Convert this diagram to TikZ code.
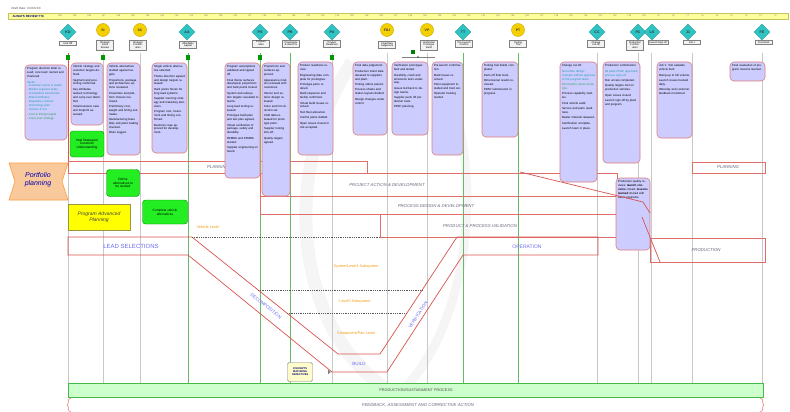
\documentclass[tikz,border=0pt]{standalone}
\usepackage{fontspec}
\setmainfont{Liberation Sans}
\usetikzlibrary{arrows.meta,shapes.geometric,shadows}
\definecolor{lav}{HTML}{CCCCFF}
\definecolor{lavborder}{HTML}{E07A7A}
\definecolor{teal1}{HTML}{2EC4C4}
\definecolor{gold1}{HTML}{F5D000}
\definecolor{bandred}{HTML}{D9534F}
\definecolor{bright}{HTML}{22EE22}
\definecolor{peach}{HTML}{F9C89B}
\definecolor{ylw}{HTML}{FFFF00}
\definecolor{lgreen}{HTML}{CCFFCC}
\definecolor{tlbar}{HTML}{FFFF99}
\definecolor{vgreen}{HTML}{66BB66}
\definecolor{vgray}{HTML}{C8C8C8}
\definecolor{orangetxt}{HTML}{F39C12}
\definecolor{bluetxt}{HTML}{6C6CF0}
\definecolor{tealtxt}{HTML}{1F9AA8}
\definecolor{greentxt}{HTML}{2E9E4F}
\definecolor{bandtxt}{HTML}{6A6A80}
\newcommand\mynote[6]{%
  \draw[notebg] (#2,#3) rectangle (#4,#5);
  \pgfmathsetmacro\nbw{#4-#2-3.5}
  \node[notetxt, text width=\nbw pt, anchor=north west] (#1) at (#2+1.8,#3+2.5) {#6};
}
\begin{document}
\begin{tikzpicture}[x=1pt,y=-1pt,
  diam/.style={diamond, fill=teal1, draw=teal1!80!black, inner sep=0pt, minimum width=16, minimum height=16, font=\fontsize{3.6}{4}\selectfont\bfseries, text=black!80},
  circ/.style={circle, fill=gold1, draw=gold1!80!black, minimum size=13, inner sep=0pt, font=\fontsize{3.4}{4}\selectfont\bfseries, text=black!80},
  lbl/.style={draw=gray, fill=gray!10, font=\fontsize{2.5}{2.9}\selectfont, align=center, inner sep=1pt, minimum width=17, anchor=north, drop shadow={shadow xshift=0.7pt, shadow yshift=-0.7pt, fill=gray!60}},
  notebg/.style={fill=lav, draw=lavborder, rounded corners=4pt, line width=0.6pt},
  notetxt/.style={font=\fontsize{2.9}{3.9}\selectfont, align=left, inner sep=0pt},
  gbox/.style={fill=bright, draw=green!55!black, rounded corners=3pt, font=\fontsize{3.2}{3.8}\selectfont, align=center, inner sep=1pt},
  band/.style={draw=bandred!85, line width=0.7pt},
  bandlbl/.style={font=\fontsize{4.3}{5}\selectfont\itshape, text=bandtxt},
  vline/.style={draw=bandred, line width=0.7pt},
  dashln/.style={draw=black!65, line width=0.6pt, dash pattern=on 1pt off 0.8pt},
  lvl/.style={font=\fontsize{3.8}{4.5}\selectfont, text=orangetxt},
  armlbl/.style={font=\fontsize{4.5}{5}\selectfont, text=bluetxt, inner sep=0.5pt}]
\useasboundingbox (0,0) rectangle (790,412);
\fill[white] (0,0) rectangle (790,412);
% faint watermark
\draw[line width=13pt, black!4] (352,62) .. controls (275,180) and (300,330) .. (385,388);
\draw[line width=9pt, black!4] (445,75) .. controls (490,200) and (460,330) .. (405,388);
% header
\node[anchor=west, font=\fontsize{3}{3.5}\selectfont, text=black!70] (draft) at (8,8) {Draft Date: XX/XX/XX};
\draw[fill=tlbar, draw=yellow!50!gray] (8,13) rectangle (788,19);
\node[anchor=west, font=\fontsize{3}{3.5}\selectfont\bfseries, text=blue!50!black] (ttc) at (9,16) {ALWAYS REVIEW TTC};
\foreach \i in {0,...,49} {
  \pgfmathtruncatemacro\nn{50-\i}
  \node[font=\fontsize{2.4}{2.6}\selectfont, text=black!55, inner sep=0pt] (tk\i) at (60+\i*14.6,16) {|\,\nn};
}
% vertical milestone lines
\foreach \x/\c in {68/vgray,103/vgray,140/vgray,188/vgreen,260/vgreen,290/vgreen,332/vgray,387/vgray,427/vgray,463/vgreen,518/vgreen,597/vgray,638/vgray,651/vgray,692/vgray,762/vgray}
  \draw[\c, line width=0.6pt] (\x,53) -- (\x,383);
\draw[bandred, line width=0.6pt] (68,53) -- (68,161);
% milestones
\node[diam] (m1) at (68,32) {KO};
\node[circ] (m2) at (103,30) {SI};
\node[circ] (m3) at (140,30) {SC};
\node[diam] (m4) at (187,32) {AA};
\node[diam] (m5) at (260,32) {PS};
\node[diam] (m6) at (290,32) {PR};
\node[diam] (m7) at (332,32) {PA};
\node[circ] (m8) at (387,30) {FDJ};
\node[circ] (m9) at (427,30) {VP};
\node[diam] (m10) at (463,32) {TT};
\node[circ] (m11) at (518,30) {PT};
\node[diam] (m12) at (597,32) {CC};
\node[diam] (m13) at (638,32) {PC};
\node[diam] (m14) at (652,32) {LS};
\node[diam] (m15) at (688,32) {J1};
\node[diam] (m16) at (762,32) {FE};
% milestone labels
\node[lbl] (l1) at (68,41) {Kick Off};
\node[lbl] (l2) at (105,40) {Strategic\\Intent\\Review};
\node[lbl] (l3) at (138,40) {Strategic\\Confirm-\\ation};
\node[lbl] (l4) at (188,41) {Affordable\\Appeal};
\node[lbl] (l5) at (261,40) {Program\\Start};
\node[lbl] (l6) at (291,40) {Proportions\\\& Hard Pts};
\node[lbl] (l7) at (332,40) {Product\\Readiness};
\node[lbl] (l8) at (387,41) {Final Data\\Judgement};
\node[lbl] (l9) at (429,40) {Verification\\Prototype\\Build};
\node[lbl] (l10) at (464,40) {Pre-Launch\\Confirm};
\node[lbl] (l11) at (518,40) {Tooling\\Trial};
\node[lbl] (l12) at (596,40) {Change\\Cut-off};
\node[lbl] (l13) at (635,40) {Production\\Confirm-\\ation};
\node[lbl] (l14) at (658,40) {Launch Sign-off};
\node[lbl] (l15) at (692,40) {Job 1};
\node[lbl] (l16) at (764,40) {Final Eval.};
% small markers
\foreach \x in {68,103,188,260,332}
  \fill[green!60!black] (\x-1.8,55) rectangle (\x+1.8,60);
\draw[gray, line width=0.5pt] (402,57) -- (435,57);
\fill[green!50!black] (411,50) rectangle (415,54);
\fill[black!70] (418,57) circle (0.9);
% bands
\draw[band] (68,161) rectangle (367,173);
\node[bandlbl] (bplan) at (218,167) {PLANNING};
\draw[band] (260,173) rectangle (617,196);
\node[bandlbl] (bproj) at (387,185) {PROJECT ACTION \& DEVELOPMENT};
\draw[band] (260,196) rectangle (617,214);
\node[bandlbl] (bproc) at (436,206) {PROCESS DESIGN \& DEVELOPMENT};
\draw[band] (380,214) rectangle (617,237);
\node[bandlbl] (bval) at (480,226) {PRODUCT \& PROCESS VALIDATION};
\draw[band] (692,162) rectangle (765,173);
\node[bandlbl] (bplan2) at (728,167.5) {PLANNING};
\draw[band] (650,238) rectangle (765,262);
\node[bandlbl] (bprod) at (706,250) {PRODUCTION};
% V model
\draw[vline] (68,237) -- (192,237) -- (338,354) -- (380,354) -- (457,237) -- (598,237) -- (598,255) -- (463,255) -- (387,372) -- (332,372) -- (188,255) -- (68,255) -- cycle;
\draw[dashln] (192,237) -- (380,237);
\draw[dashln] (258,290) -- (422,290);
\draw[dashln] (287,313) -- (407,313);
\node[font=\fontsize{6}{7}\selectfont, text=bluetxt] (lead) at (131,246) {LEAD SELECTIONS};
\node[font=\fontsize{5}{6}\selectfont, text=bluetxt] (oper) at (527,247) {OPERATION};
\node[armlbl, rotate=-39] (larm) at (266,306) {DECOMPOSITION};
\node[armlbl, rotate=57] (rarm) at (418,315) {VERIFICATION};
\node[armlbl] (vbot) at (359,364) {BUILD};
\node[lvl, anchor=west] (lv0) at (193,227) {Vehicle Level};
\node[lvl] (lv1) at (356,267) {System/Level1 Subsystem};
\node[lvl] (lv2) at (355,302) {Level2 Subsystem};
\node[lvl] (lv3) at (356,334) {Component/Part Level};
% concept box
\node[draw=gray, fill=yellow!20, rounded corners=1.5pt, font=\fontsize{2.6}{3.1}\selectfont\bfseries, text=blue!40!black, align=center, minimum width=25, minimum height=19, inner sep=0.5pt] (conc) at (300,372) {CONCEPTS\\MATURING\\OBJECTIVES};
\draw[gray, double, double distance=2pt, -{Latex[length=3pt,width=5pt]}] (conc.east) -- (331,372);
% notes
\mynote{n1}{25}{65}{67}{140}{Program direction letter issued; core team named and chartered.\\[1.5pt]
{\color{tealtxt}Inputs:\\- Customer wants \& needs\\- Market segment study\\- Competitive benchmark\\- Brand attributes\\- Regulatory outlook\\- Technology plan\\- Volume \& mix}\\[1.5pt]
{\color{greentxt}- Cost \& timing targets\\- Carry-over strategy}}
\mynote{n2}{71}{63}{103}{125}{Vehicle strategy and customer targets defined.\\[1.5pt] Segment and positioning confirmed.\\[1.5pt] Key attributes ranked; technology and carry-over identified.\\[1.5pt] Initial business case and footprint assessed.}
\mynote{n3}{107}{63}{140}{155}{Vehicle alternatives studied against targets.\\[1.5pt] Proportions, package and architecture options reviewed.\\[1.5pt] Powertrain and platform choices narrowed.\\[1.5pt] Preliminary cost, weight and timing estimates.\\[1.5pt] Manufacturing feasibility and plant loading checked.\\[1.5pt] Risks logged.}
\mynote{n4}{152}{63}{187}{153}{Single vehicle alternative selected.\\[1.5pt] Theme direction agreed and design targets released.\\[1.5pt] Hard points frozen for long lead systems.\\[1.5pt] Supplier sourcing strategy and make/buy decisions.\\[1.5pt] Program cost, investment and timing confirmed.\\[1.5pt] Business case approved for development.}
\mynote{n5}{225}{63}{260}{178}{Program assumptions validated and signed off.\\[1.5pt] Final theme surfaces developed; proportions and hard points locked.\\[1.5pt] System and subsystem targets cascaded to teams.\\[1.5pt] Long lead tooling released.\\[1.5pt] Prototype build plan and test plan agreed.\\[1.5pt] Virtual verification of package, safety and durability.\\[1.5pt] DFMEA and PFMEA started.\\[1.5pt] Supplier engineering on board.}
\mynote{n6}{262}{63}{290}{196}{Proportions and surfaces approved.\\[1.5pt] Appearance models reviewed with customers.\\[1.5pt] Interior and exterior design released.\\[1.5pt] Color and trim direction set.\\[1.5pt] CAD data released for prototype parts.\\[1.5pt] Supplier tooling kick-off.\\[1.5pt] Quality targets agreed.}
\mynote{n7}{298}{62}{333}{155}{Product readiness review.\\[1.5pt] Engineering data complete for prototypes.\\[1.5pt] Prototype parts ordered.\\[1.5pt] Build sequence and facility confirmed.\\[1.5pt] Virtual build issues resolved.\\[1.5pt] Test fleet allocation.\\[1.5pt] Control plans drafted.\\[1.5pt] Open issues closed or risk accepted.}
\mynote{n8}{353}{62}{387}{135}{Final data judgement.\\[1.5pt] Production intent data released to suppliers and plant.\\[1.5pt] Tooling orders placed.\\[1.5pt] Process sheets and station layouts drafted.\\[1.5pt] Design changes under control.}
\mynote{n9}{392}{62}{428}{135}{Verification prototypes built and tested.\\[1.5pt] Durability, crash and emissions tests underway.\\[1.5pt] Issues fed back to design teams.\\[1.5pt] Supplier parts off production tools.\\[1.5pt] PPAP planning.}
\mynote{n10}{432}{62}{463}{155}{Pre-launch confirmation.\\[1.5pt] Build issues resolved.\\[1.5pt] Plant equipment installed and tried out.\\[1.5pt] Operator training started.}
\mynote{n11}{482}{62}{518}{137}{Tooling trial builds completed.\\[1.5pt] Parts off final tools.\\[1.5pt] Dimensional results reviewed.\\[1.5pt] PPAP submissions in progress.}
\mynote{n12}{560}{62}{597}{182}{Change cut-off.\\[1.5pt] {\color{tealtxt}No further design changes without approval of the program team.}\\[1.5pt] {\color{greentxt}Pilot build in plant at line rate.}\\[1.5pt] Process capability studies.\\[1.5pt] Final vehicle audit.\\[1.5pt] Service and parts readiness.\\[1.5pt] Dealer material released.\\[1.5pt] Certification complete.\\[1.5pt] Launch team in place.}
\mynote{n13}{603}{62}{640}{163}{Production confirmation.\\[1.5pt] {\color{tealtxt}All parts PPAP approved; process sign-off.}\\[1.5pt] Run at rate completed.\\[1.5pt] Quality targets met on production vehicles.\\[1.5pt] Open issues closed.\\[1.5pt] Launch sign-off by plant and program.}
\mynote{n14}{657}{62}{692}{138}{Job 1: first saleable vehicle built.\\[1.5pt] Ramp-up to full volume.\\[1.5pt] Launch issues tracked daily.\\[1.5pt] Warranty and customer feedback monitored.}
\mynote{n15}{730}{62}{765}{81}{Final evaluation of program; lessons learned.}
\mynote{n16}{616}{178}{650}{250}{Production quality reviews; {\bfseries launch concerns} closed; {\bfseries lessons learned} shared with future programs.}
% lines over lower note
\draw[vline] (520,172) -- (643,202) -- (650,213);
\draw[vline] (642,217) -- (660,262);
% green boxes
\node[gbox, minimum width=34, minimum height=26] (g1) at (87,144) {Vital Strategies/\\Customer\\Understanding};
\node[gbox, minimum width=33, minimum height=27] (g2) at (123,183) {Define\\alternatives to\\be studied};
\node[gbox, minimum width=45, minimum height=24] (g3) at (165,212) {Complete vehicle\\alternatives};
% yellow box
\node[draw=yellow!55!black, fill=ylw, minimum width=62, minimum height=26, font=\fontsize{5}{6}\selectfont\itshape, text=black!75, align=center] (pap) at (99,217) {Program Advanced\\Planning};
% portfolio banner
\draw[fill=peach, draw=orange!60!peach, line width=0.6pt] (9,163) -- (68,163) -- (62,181.5) -- (68,200) -- (9,200) -- (15,181.5) -- cycle;
\node[font=\fontsize{7}{8}\selectfont\itshape, text=blue!70!black, align=center] (pp) at (38,180) {Portfolio\\planning};
% bottom bands
\draw[fill=lgreen, draw=green!45!gray] (68,383) rectangle (763,397);
\node[font=\fontsize{3.8}{4.5}\selectfont, text=black!70] (sust) at (416,390) {PRODUCTION/SUSTAINMENT PROCESS};
\draw[bandred!70, line width=0.6pt] (71,398) .. controls (66,399) and (70,404) .. (67,405) .. controls (70,406) and (66,411) .. (71,412);
\draw[bandred!70, line width=0.6pt] (760,398) .. controls (765,399) and (761,404) .. (764,405) .. controls (761,406) and (765,411) .. (760,412);
\node[font=\fontsize{4.3}{5}\selectfont\itshape, text=bandtxt] (fb) at (418,405) {FEEDBACK, ASSESSMENT AND CORRECTIVE ACTION};
\end{tikzpicture}
\end{document}
